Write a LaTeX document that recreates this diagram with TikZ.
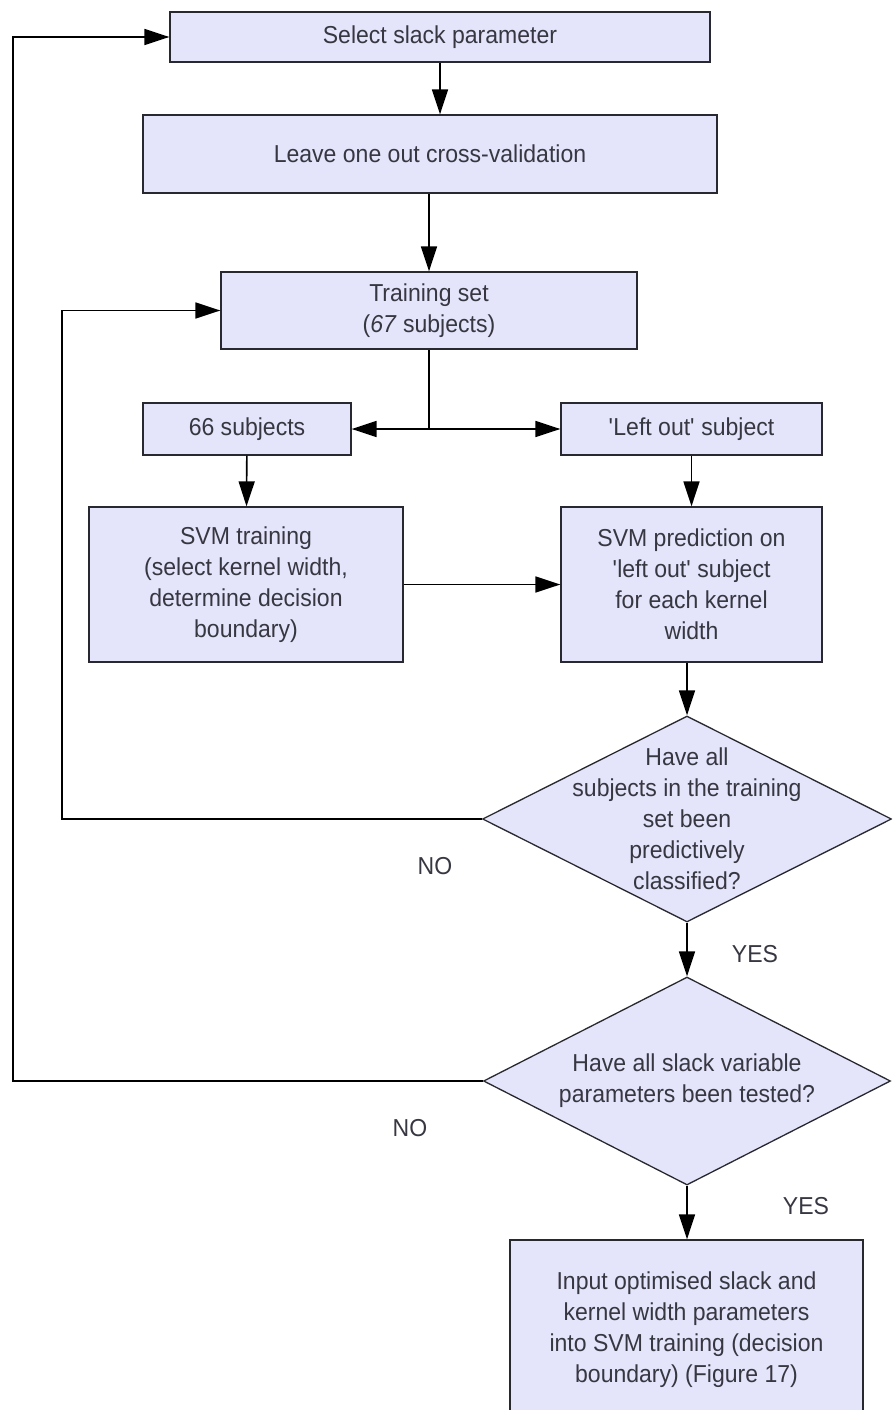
\documentclass[tikz,border=0pt]{standalone}
\usepackage{fontspec}
\setmainfont{Liberation Sans}[FakeStretch=0.94]
\usetikzlibrary{shapes.geometric,arrows.meta}
\definecolor{boxfill}{RGB}{228,228,250}
\definecolor{boxtext}{RGB}{55,55,66}
\definecolor{boxline}{RGB}{40,40,48}

\begin{document}
\begin{tikzpicture}[x=1pt, y=-1pt,
  box/.style={draw=boxline, line width=1.3pt, fill=boxfill, text=boxtext,
    align=center, inner sep=0pt, font=\fontsize{24.5}{31}\selectfont},
  decision/.style={diamond, draw=boxline, line width=1.3pt, fill=boxfill,
    inner sep=0pt},
  qtext/.style={text=boxtext, align=center, font=\fontsize{24.5}{31}\selectfont},
  answer/.style={text=boxtext, font=\fontsize{24.5}{31}\selectfont},
  arr/.style={line width=1.6pt, -{Triangle[length=25pt,width=16pt]}},
  link/.style={line width=1.6pt}]

  \clip (0,0) rectangle (892,1410);

  %% main column
  \node[box, minimum width=540pt, minimum height=50pt] (slack) at (440,37) {Select slack parameter};
  \node[box, minimum width=574pt, minimum height=78pt] (loocv) at (430,154) {Leave one out cross-validation};
  \node[box, minimum width=416pt, minimum height=77pt] (trainset) at (429,310.5) {Training set\\(\textit{67} subjects)};

  %% split into the two branches
  \node[box, minimum width=208pt, minimum height=52pt] (rest) at (247,429) {66 subjects};
  \node[box, minimum width=261pt, minimum height=52pt] (leftout) at (691.5,429) {\textquotesingle Left out\textquotesingle{} subject};
  \node[box, minimum width=314pt, minimum height=155pt] (svmtrain) at (246,584.5)
    {SVM training\\(select kernel width,\\determine decision\\boundary)};
  \node[box, minimum width=261pt, minimum height=155pt] (svmpred) at (691.5,584.5)
    {SVM prediction on\\\textquotesingle left out\textquotesingle{} subject\\for each kernel\\width};

  %% decisions
  \node[decision, minimum width=409pt, minimum height=206pt] (allsubj) at (687,819) {};
  \node[qtext] (allsubjtext) at (allsubj) {Have all\\subjects in the training\\set been\\predictively\\classified?};
  \node[decision, minimum width=407pt, minimum height=208pt] (allslack) at (687,1081) {};
  \node[qtext] (allslacktext) at (allslack) {Have all slack variable\\parameters been tested?};

  \node[box, minimum width=353pt, minimum height=180pt] (final) at (686.5,1330)
    {Input optimised slack and\\kernel width parameters\\into SVM training (decision\\boundary) (Figure 17)};

  %% answers
  \node[answer] (no1) at (435,866) {NO};
  \node[answer] (yes1) at (755,954) {YES};
  \node[answer] (no2) at (410,1128) {NO};
  \node[answer] (yes2) at (806,1206) {YES};

  %% connectors
  \coordinate (split) at (429,429);
  \draw[arr] (slack) -- (slack |- loocv.north);
  \draw[arr] (loocv.south -| trainset) -- (trainset);
  \draw[link] (trainset) -- (split);
  \draw[arr] (split) -- (rest);
  \draw[arr] (split) -- (leftout);
  \draw[arr] (rest) -- (svmtrain);
  \draw[arr] (leftout) -- (svmpred);
  \draw[arr] (svmtrain) -- (svmpred);
  \draw[arr] (svmpred.south -| allsubj.north) -- (allsubj.north);
  \draw[arr] (allsubj.south) -- (allslack.north);
  \draw[arr] (allslack.south) -- (allslack.south |- final.north);

  %% loops back
  \draw[arr] (allsubj.west) -- ++(-420,0) |- (trainset.west);
  \draw[arr] (allslack.west) -- ++(-470,0) |- (slack.west);

\end{tikzpicture}
\end{document}
